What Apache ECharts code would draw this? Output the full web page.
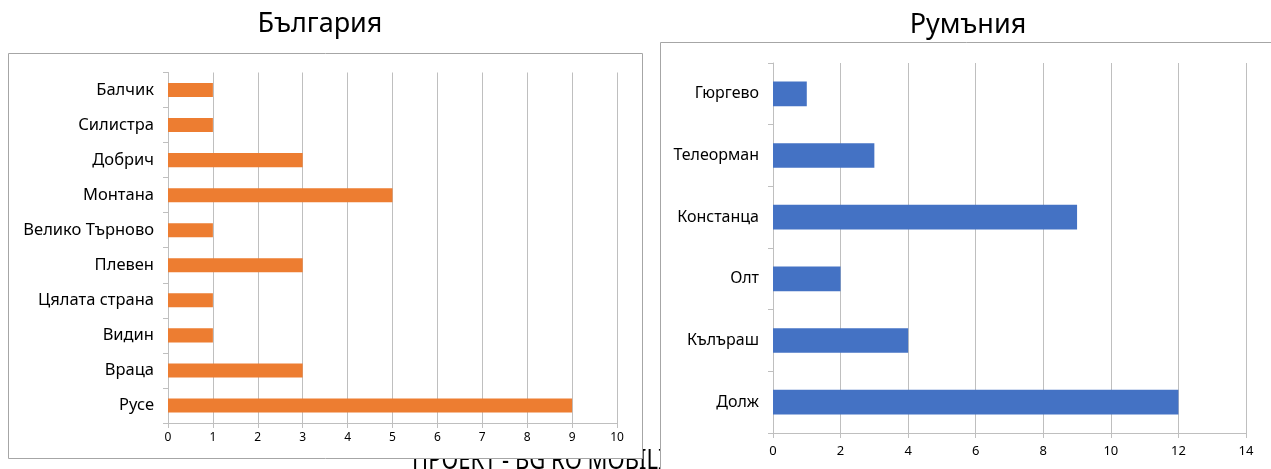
<!DOCTYPE html>
<html>
<head>
<meta charset="utf-8">
<script src="https://cdn.jsdelivr.net/npm/echarts@6/dist/echarts.min.js"></script>
<style>
html,body{margin:0;padding:0;background:#fff;}
#c{width:1271px;height:469px;}
</style>
</head>
<body>
<div id="c"></div>
<script>
// Bulgaria (bottom to top)
const bgCategories = ['Русе', 'Враца', 'Видин', 'Цялата страна', 'Плевен', 'Велико Търново', 'Монтана', 'Добрич', 'Силистра', 'Балчик'];
const bgValues = [9, 3, 1, 1, 3, 1, 5, 3, 1, 1];
const bgTicks = { min: 0, max: 10, interval: 1 };

// Romania (bottom to top)
const roCategories = ['Долж', 'Кълъраш', 'Олт', 'Констанца', 'Телеорман', 'Гюргево'];
const roValues = [12, 4, 2, 9, 3, 1];
const roTicks = { min: 0, max: 14, interval: 2 };

const titles = ['България', 'Румъния'];
const footer = 'ПРОЕКТ - BG RO MOBILITY';

const FONT = '"Noto Sans", sans-serif';
const gridColor = '#bfbfbf';

const chart = echarts.init(document.getElementById('c'), null, { renderer: 'canvas' });

function valueAxis(gridIndex, t, labelMargin, fs) {
  return {
    type: 'value', gridIndex, min: t.min, max: t.max, interval: t.interval,
    axisLine: { show: true, lineStyle: { color: gridColor, width: 1 } },
    axisTick: { show: true, length: 5, lineStyle: { color: gridColor } },
    axisLabel: { color: '#000', fontFamily: FONT, fontSize: fs, margin: labelMargin },
    splitLine: { show: true, lineStyle: { color: gridColor, width: 1 } }
  };
}
function catAxis(gridIndex, cats, fs) {
  return {
    type: 'category', gridIndex, data: cats,
    axisLine: { show: true, lineStyle: { color: gridColor, width: 1 } },
    axisTick: { show: true, length: 5, alignWithLabel: false, lineStyle: { color: gridColor } },
    axisLabel: { color: '#000', fontFamily: FONT, fontSize: fs, margin: 14 },
    splitLine: { show: false }
  };
}

chart.setOption({
  animation: false,
  backgroundColor: '#fff',
  graphic: [
    { type: 'text', z: -20, x: 412, y: 448, scaleY: 1.2, style: { text: footer, font: '22px ' + FONT, fill: '#000' } },
    { type: 'rect', z: -10, shape: { x: 8.5, y: 53.5, width: 634, height: 405 }, style: { fill: '#fff', stroke: '#a6a6a6', lineWidth: 1 } },
    { type: 'rect', z: -10, shape: { x: 660.5, y: 42.5, width: 620, height: 440 }, style: { fill: '#fff', stroke: '#a6a6a6', lineWidth: 1 } },
    { type: 'text', z: 5, x: 320, y: 24, style: { text: titles[0], font: '27px ' + FONT, fill: '#000', align: 'center', verticalAlign: 'middle' } },
    { type: 'text', z: 5, x: 968, y: 25, style: { text: titles[1], font: '27px ' + FONT, fill: '#000', align: 'center', verticalAlign: 'middle' } }
  ],
  grid: [
    { left: 168, top: 72.5, width: 449, height: 350.5 },
    { left: 773, top: 63, width: 473, height: 370 }
  ],
  xAxis: [valueAxis(0, bgTicks, 9, 12), valueAxis(1, roTicks, 12, 13)],
  yAxis: [catAxis(0, bgCategories, 16.5), catAxis(1, roCategories, 16)],
  series: [
    { type: 'bar', xAxisIndex: 0, yAxisIndex: 0, data: bgValues, barWidth: '40%', itemStyle: { color: '#ED7D31' } },
    { type: 'bar', xAxisIndex: 1, yAxisIndex: 1, data: roValues, barWidth: '40%', itemStyle: { color: '#4472C4' } }
  ]
});
</script>
</body>
</html>
